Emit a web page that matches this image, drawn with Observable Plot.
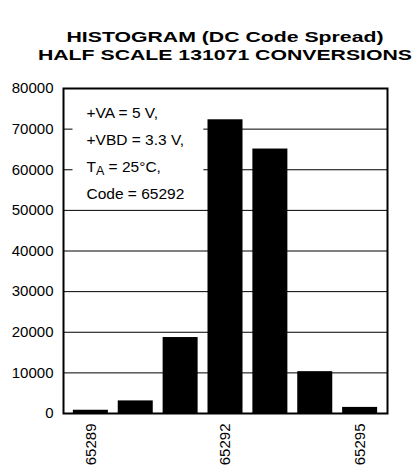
<!DOCTYPE html>
<html>
<head>
<meta charset="utf-8">
<script src="https://cdn.jsdelivr.net/npm/d3@7"></script>
<script src="https://cdn.jsdelivr.net/npm/@observablehq/plot@0.6"></script>
<style>
  html, body { margin: 0; padding: 0; background: white; }
  #wrap { width: 416px; }
  #title {
    box-sizing: border-box;
    height: 70px;
    padding-top: 28px;
    padding-left: 63px;
    width: 387px;
    text-align: center;
    font-family: 'Liberation Sans', Arial, Helvetica, sans-serif;
    font-weight: bold;
    font-size: 15.5px;
    line-height: 17.5px;
    color: black;
  }
  #title div { transform: scaleX(1.37); transform-origin: center; white-space: nowrap; }
  svg { display: block; }
</style>
</head>
<body>
<div id="wrap">
  <div id="title"></div>
  <div id="chart"></div>
</div>
<script>
// ---- data ----
const titleLines = ["HISTOGRAM (DC Code Spread)", "HALF SCALE 131071 CONVERSIONS"];
const codes = [65289, 65290, 65291, 65292, 65293, 65294, 65295];
const counts = [800, 3100, 18700, 72300, 65100, 10300, 1500];
const xTickLabels = [65289, 65292, 65295];
const yTicks = [0, 10000, 20000, 30000, 40000, 50000, 60000, 70000, 80000];
const noteLines = ["+VA = 5 V,", "+VBD = 3.3 V,", "TA = 25°C,", "Code = 65292"];

const data = codes.map((c, i) => ({code: c, count: counts[i]}));

const titleEl = document.getElementById("title");
for (const t of titleLines) {
  const d = document.createElement("div");
  d.textContent = t;
  titleEl.appendChild(d);
}

const chart = Plot.plot({
  width: 416,
  height: 399,
  marginTop: 18,
  marginBottom: 56,
  marginLeft: 63,
  marginRight: 29,
  style: {
    fontFamily: "'Liberation Sans', Arial, Helvetica, sans-serif",
    fontSize: "15px",
    background: "white",
    color: "black"
  },
  x: {type: "band", domain: codes, padding: 0.22, round: false, label: null},
  y: {domain: [0, 80000], label: null},
  marks: [
    Plot.ruleY(yTicks.slice(1, -1), {stroke: "black", strokeWidth: 1}),
    Plot.barY(data, {x: "code", y: "count", fill: "black"}),
    Plot.text([noteLines.join("\n")], {
      frameAnchor: "top-left",
      lineAnchor: "top",
      textAnchor: "start",
      dx: 23,
      dy: 10,
      lineHeight: 1.75,
      fontSize: 15.5,
      fill: "black",
      text: d => d,
      className: "note"
    }),
    Plot.axisY({ticks: yTicks, tickSize: 0, tickPadding: 10, label: null, tickFormat: d => String(d)}),
    Plot.axisX({ticks: xTickLabels, tickSize: 0, tickPadding: 10, tickRotate: -90, label: null, tickFormat: d => String(d)}),
    Plot.frame({stroke: "black", strokeWidth: 2})
  ]
});

document.getElementById("chart").appendChild(chart);

// subscript for T_A and white box behind the note
const noteText = chart.querySelector("g.note text") || chart.querySelector(".note text");
if (noteText) {
  const ns = "http://www.w3.org/2000/svg";
  for (const ts of noteText.querySelectorAll("tspan")) {
    if (ts.textContent.startsWith("TA")) {
      const rest = ts.textContent.slice(2);
      ts.textContent = "T";
      const sub = document.createElementNS(ns, "tspan");
      sub.setAttribute("dy", "3");
      sub.setAttribute("font-size", "12.5");
      sub.textContent = "A";
      const after = document.createElementNS(ns, "tspan");
      after.setAttribute("dy", "-3");
      after.textContent = rest;
      ts.appendChild(sub);
      ts.appendChild(after);
    }
  }
  const bb = noteText.getBBox();
  const rect = document.createElementNS(ns, "rect");
  rect.setAttribute("x", bb.x - 14);
  rect.setAttribute("y", bb.y - 14);
  rect.setAttribute("width", bb.width + 33);
  rect.setAttribute("height", bb.height + 18);
  rect.setAttribute("fill", "white");
  const g = noteText.parentNode;
  const tr = noteText.getAttribute("transform");
  if (tr) rect.setAttribute("transform", tr);
  g.insertBefore(rect, noteText);
}
</script>
</body>
</html>
